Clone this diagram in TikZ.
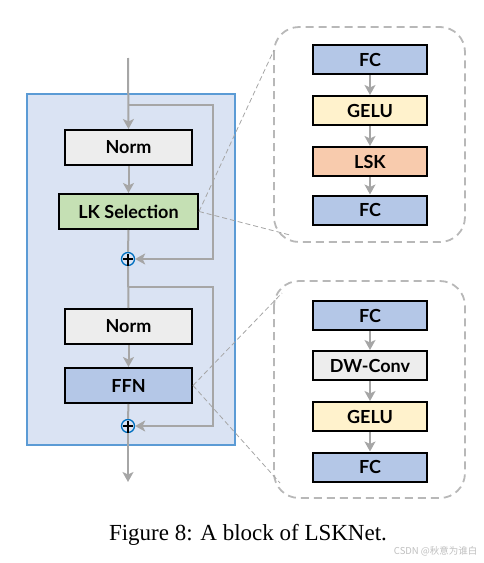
\documentclass[tikz,border=0pt]{standalone}
\usepackage{fontspec}
\setmainfont{Liberation Serif}
\newfontfamily\boxfont{Lato}
\newfontfamily\cjk{Noto Sans CJK SC}
\usetikzlibrary{arrows.meta}
\definecolor{bgblue}{HTML}{DAE3F3}
\definecolor{bordblue}{HTML}{5B9BD5}
\definecolor{fcblue}{HTML}{B4C7E7}
\definecolor{lgray}{HTML}{EDEDED}
\definecolor{lgreen}{HTML}{C5E0B4}
\definecolor{lyellow}{HTML}{FFF2CC}
\definecolor{lorange}{HTML}{F8CBAD}
\definecolor{arrgray}{HTML}{A6A6A6}
\definecolor{plusblue}{HTML}{0070C0}
\begin{document}
\begin{tikzpicture}[x=1pt,y=-1pt,
  blk/.style={draw=black,line width=2pt,minimum height=35pt,minimum width=127pt,inner sep=0pt,font=\boxfont\bfseries\fontsize{18}{21}\selectfont},
  sblk/.style={draw=black,line width=2pt,minimum height=29pt,minimum width=114pt,inner sep=0pt,font=\boxfont\bfseries\fontsize{18}{21}\selectfont},
  flow/.style={draw=arrgray,line width=2pt},
  arr/.style={flow,-{Stealth[length=10pt,width=11pt,inset=2.5pt]}},
  addnode/.style={circle,draw=plusblue,line width=1.3pt,minimum size=13pt,inner sep=0pt},
  zoomline/.style={draw=arrgray,line width=0.8pt,dash pattern=on 5pt off 3pt},
  zoombox/.style={draw=arrgray!80,line width=1.8pt,dash pattern=on 8pt off 5pt,rounded corners=25pt}
]
\useasboundingbox (0,0) rectangle (483,563);
% main block
\node[draw=bordblue,fill=bgblue,line width=1.5pt,minimum width=208pt,minimum height=351pt,inner sep=0pt] (main) at (131,269.5) {};
% nodes
\coordinate (in) at (128,58);
\coordinate (b1) at (128,105);
\coordinate (c1) at (213,105);
\coordinate (d1) at (213,259);
\node[blk,fill=lgray] (norm1) at (128.5,147.5) {Norm};
\node[blk,fill=lgreen,minimum width=139pt] (lk) at (128.5,211.5) {LK Selection};
\node[addnode] (plus1) at (128,259) {};
\coordinate (b2) at (128,287);
\coordinate (c2) at (213,287);
\coordinate (d2) at (213,426);
\node[blk,fill=lgray] (norm2) at (128.5,326.5) {Norm};
\node[blk,fill=fcblue] (ffn) at (128.5,385.5) {FFN};
\node[addnode] (plus2) at (128,426) {};
\coordinate (out) at (128,482);
% plus signs
\draw[black,line width=1.2pt] (plus1.north) ++(0,2.5) -- ([yshift=-2.5pt]plus1.south) (plus1.west) ++(2.5,0) -- ([xshift=-2.5pt]plus1.east);
\draw[black,line width=1.2pt] (plus2.north) ++(0,2.5) -- ([yshift=-2.5pt]plus2.south) (plus2.west) ++(2.5,0) -- ([xshift=-2.5pt]plus2.east);
% flow
\draw[arr] (in) -- (norm1.north);
\draw[arr] (norm1.south) -- (lk.north);
\draw[flow] (lk.south) -- (plus1.north);
\draw[arr] (b1) -- (c1) -- (d1) -- (plus1.east);
\draw[flow] (plus1.south) -- (norm2.north);
\draw[arr] (norm2.south) -- (ffn.north);
\draw[flow] (ffn.south) -- (plus2.north);
\draw[arr] (b2) -- (c2) -- (d2) -- (plus2.east);
\draw[arr] (plus2.south) -- (out);
% zoom boxes
\draw[zoombox] (274,27) rectangle (465,242);
\draw[zoombox] (274,281) rectangle (465,498);
\coordinate (z1a) at (274,50);
\coordinate (z1b) at (290,235);
\coordinate (z2a) at (282,293);
\coordinate (z2b) at (280,483);
\draw[zoomline] (lk.east) -- (z1a);
\draw[zoomline] (lk.east) -- (z1b);
\draw[zoomline] (ffn.east) -- (z2a);
\draw[zoomline] (ffn.east) -- (z2b);
% top detail
\node[sblk,fill=fcblue] (fc1) at (370,59.5) {FC};
\node[sblk,fill=lyellow] (gelu1) at (370,110.5) {GELU};
\node[sblk,fill=lorange] (lsk) at (370,161.5) {LSK};
\node[sblk,fill=fcblue] (fc2) at (370,210) {FC};
\draw[arr] (fc1) -- (gelu1);
\draw[arr] (gelu1) -- (lsk);
\draw[arr] (lsk) -- (fc2);
% bottom detail
\node[sblk,fill=fcblue] (fc3) at (370,315.5) {FC};
\node[sblk,fill=lgray] (dw) at (370,365.5) {DW-Conv};
\node[sblk,fill=lyellow] (gelu2) at (370,416.5) {GELU};
\node[sblk,fill=fcblue] (fc4) at (370,467) {FC};
\draw[arr] (fc3) -- (dw);
\draw[arr] (dw) -- (gelu2);
\draw[arr] (gelu2) -- (fc4);
% caption
\node[font=\fontsize{23}{27}\selectfont] (cap) at (248,535) {Figure 8: A block of LSKNet.};
\node[anchor=east,text=black!25,font=\cjk\fontsize{9.5}{11}\selectfont] (wm) at (481,551) {CSDN @秋意为谁白};
\end{tikzpicture}
\end{document}
